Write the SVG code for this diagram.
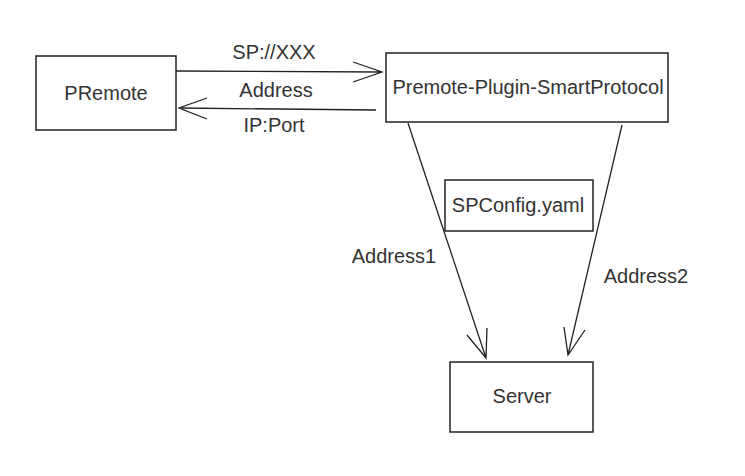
<svg xmlns="http://www.w3.org/2000/svg" width="745" height="476" viewBox="0 0 745 476">
<style>
.box{fill:#fff;stroke:#222;stroke-width:1.5}
.t{font-family:"Liberation Sans",Arial,sans-serif;font-size:20px;fill:#333;text-anchor:middle}
.c{fill:none;stroke:#222;stroke-width:1.3}
</style>
<rect width="745" height="476" fill="#fff"/>
<g id="PRemote"><rect class="box" x="36" y="56" width="140" height="74"/><text class="t" x="106" y="100">PRemote</text></g>
<g id="Plugin"><rect class="box" x="386" y="53" width="282" height="69"/><text class="t" x="528" y="94">Premote-Plugin-SmartProtocol</text></g>
<g id="SPConfig"><rect class="box" x="445" y="180" width="148" height="51"/><text class="t" x="518" y="212">SPConfig.yaml</text></g>
<g id="Server"><rect class="box" x="450" y="362" width="143" height="70"/><text class="t" x="522" y="403">Server</text></g>
<g id="connectors">
<path class="c" d="M176 71 L382 72 M353 62 L382 72 L353 82"/>
<path class="c" d="M376 110 L179 108 M207 98 L179 108 L207 119"/>
<path class="c" d="M408 123 L486 358 M467 335 L486 358 L487 328"/>
<path class="c" d="M622 125 L568 355 M564 327 L568 355 L585 330"/>
<text class="t" x="274" y="59">SP://XXX</text>
<text class="t" x="276" y="97">Address</text>
<text class="t" x="274" y="132">IP:Port</text>
<text class="t" x="394" y="263">Address1</text>
<text class="t" x="646" y="283">Address2</text>
</g>
</svg>
